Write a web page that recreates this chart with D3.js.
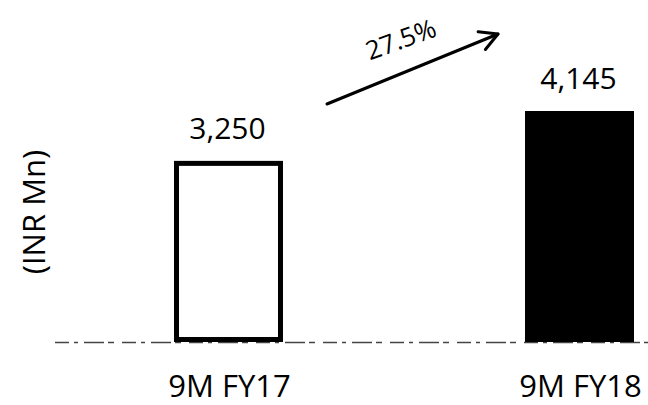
<!DOCTYPE html>
<html><head><meta charset="utf-8">
<script src="https://cdn.jsdelivr.net/npm/d3@7"></script>
<style>body{margin:0;background:#fff}svg{display:block}text{font-family:"Open Sans",sans-serif;fill:#000}</style>
</head><body>
<script>
const categories = ["9M FY17", "9M FY18"];
const values = [3250, 4145];
const valueLabels = ["3,250", "4,145"];
const growthLabel = "27.5%";
const yAxisTitle = "(INR Mn)";

const W = 648, H = 405;
const svg = d3.select("body").append("svg").attr("width", W).attr("height", H);

const base = 342;
const x = d3.scaleBand().domain(categories).range([174, 634]).paddingInner(0.6895).paddingOuter(0);
const y = d3.scaleLinear().domain([0, 4145]).range([base, 111]);

// baseline dashed
svg.append("line").attr("x1", 55).attr("x2", W).attr("y1", base + 0.5).attr("y2", base + 0.5)
  .attr("stroke", "#444").attr("stroke-width", 1.5).attr("stroke-dasharray", "14 5 4 6 20 4 6 8");

const sw = 5;
svg.selectAll("rect.bar").data(values).join("rect")
  .attr("class", "bar")
  .attr("x", (d, i) => x(categories[i]) + (i === 0 ? sw / 2 : 0))
  .attr("width", (d, i) => x.bandwidth() - (i === 0 ? sw : 0))
  .attr("y", (d, i) => y(d) + (i === 0 ? sw / 2 : 0))
  .attr("height", (d, i) => base - y(d) - (i === 0 ? sw : 0))
  .attr("fill", (d, i) => i === 0 ? "#fff" : "#000")
  .attr("stroke", (d, i) => i === 0 ? "#000" : "none")
  .attr("stroke-width", sw);

svg.selectAll("text.val").data(values).join("text")
  .attr("class", "val")
  .attr("x", (d, i) => x(categories[i]) + x.bandwidth() / 2 - 1)
  .attr("y", d => y(d) - 22)
  .attr("text-anchor", "middle").attr("font-size", 30)
  .text((d, i) => valueLabels[i]);

svg.selectAll("text.cat").data(categories).join("text")
  .attr("class", "cat")
  .attr("x", d => x(d) + x.bandwidth() / 2 + 1)
  .attr("y", 397)
  .attr("text-anchor", "middle").attr("font-size", 31)
  .text(d => d);

svg.append("text").attr("transform", "translate(45,212) rotate(-90)")
  .attr("text-anchor", "middle").attr("font-size", 31).text(yAxisTitle);

// growth arrow
const a0 = [327, 104], a1 = [498, 34];
svg.append("line").attr("x1", a0[0]).attr("y1", a0[1]).attr("x2", a1[0]).attr("y2", a1[1])
  .attr("stroke", "#000").attr("stroke-width", 3).attr("stroke-linecap", "round");
const ang = Math.atan2(a1[1] - a0[1], a1[0] - a0[0]);
const hl = 20;
const hp = (da) => [a1[0] - hl * Math.cos(ang + da), a1[1] - hl * Math.sin(ang + da)];
svg.append("path").attr("d", d3.line()([hp(0.5), a1, hp(-0.5)]))
  .attr("fill", "none").attr("stroke", "#000").attr("stroke-width", 3)
  .attr("stroke-linecap", "round").attr("stroke-linejoin", "round");
svg.append("text").attr("transform", "translate(404,48) rotate(-20)")
  .attr("text-anchor", "middle").attr("font-size", 26).text(growthLabel);
</script>
</body></html>
